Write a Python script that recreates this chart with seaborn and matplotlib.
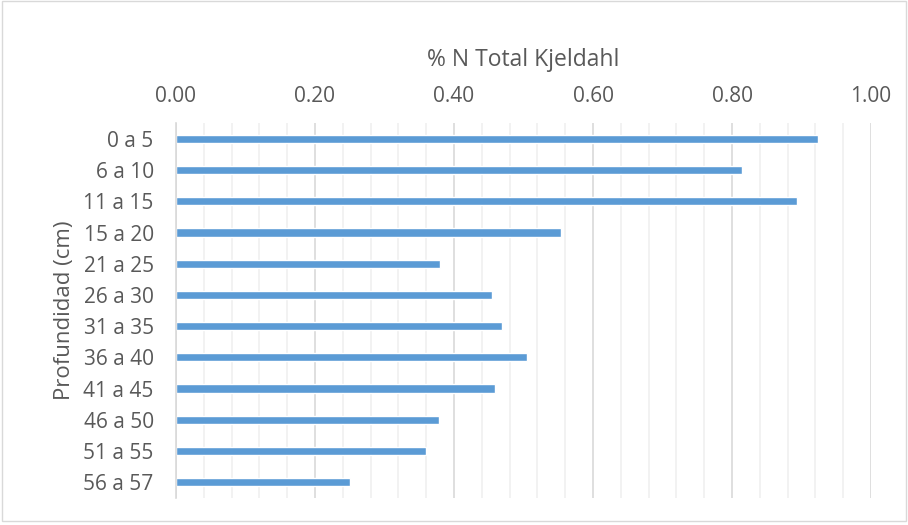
import matplotlib
matplotlib.use("Agg")
import matplotlib.pyplot as plt
import seaborn as sns
import pandas as pd
from matplotlib.ticker import MultipleLocator
from matplotlib.patches import Rectangle

# Datos
profundidades = ["0 a 5", "6 a 10", "11 a 15", "15 a 20", "21 a 25", "26 a 30",
                 "31 a 35", "36 a 40", "41 a 45", "46 a 50", "51 a 55", "56 a 57"]
nitrogeno = [0.924, 0.814, 0.894, 0.554, 0.380, 0.455,
             0.469, 0.505, 0.459, 0.379, 0.359, 0.250]

df = pd.DataFrame({"prof": profundidades, "n": nitrogeno})

sns.set_style("white")
plt.rcParams["font.family"] = ["Open Sans", "DejaVu Sans"]

fig = plt.figure(figsize=(9.08, 5.25), dpi=100)
ax = fig.add_axes([0.1938, 0.052, 0.7655, 0.713])

sns.barplot(data=df, x="n", y="prof", color="#5b9bd5", width=0.26,
            saturation=1, ax=ax, orient="h")

ax.set_xlim(0, 1.0)
ax.set_ylim(11.5, -0.5)
ax.xaxis.set_major_locator(MultipleLocator(0.2))
ax.xaxis.set_minor_locator(MultipleLocator(0.04))
ax.grid(which="major", axis="x", color="#d9d9d9", linewidth=1.2)
ax.grid(which="minor", axis="x", color="#f0f0f0", linewidth=1.2)
ax.set_axisbelow(True)

ax.xaxis.tick_top()
ax.xaxis.set_label_position("top")
ax.xaxis.set_major_formatter(matplotlib.ticker.FormatStrFormatter("%.2f"))
ax.tick_params(axis="both", which="both", length=0, labelsize=15,
               labelcolor="#595959")
ax.tick_params(axis="x", pad=12)
ax.tick_params(axis="y", pad=16)

ax.set_xlabel("% N Total Kjeldahl", fontsize=16.5, color="#595959", labelpad=14)
ax.set_ylabel("Profundidad (cm)", fontsize=16, color="#595959", labelpad=6)

for s in ["top", "right", "bottom"]:
    ax.spines[s].set_visible(False)
ax.spines["left"].set_color("#d9d9d9")
ax.spines["left"].set_linewidth(1.2)

# borde del gráfico
fig.patches.append(Rectangle((0.002, 0.008), 0.996, 0.99, transform=fig.transFigure,
                             fill=False, edgecolor="#d9d9d9", linewidth=1))

fig.savefig("out.png", dpi=100)
